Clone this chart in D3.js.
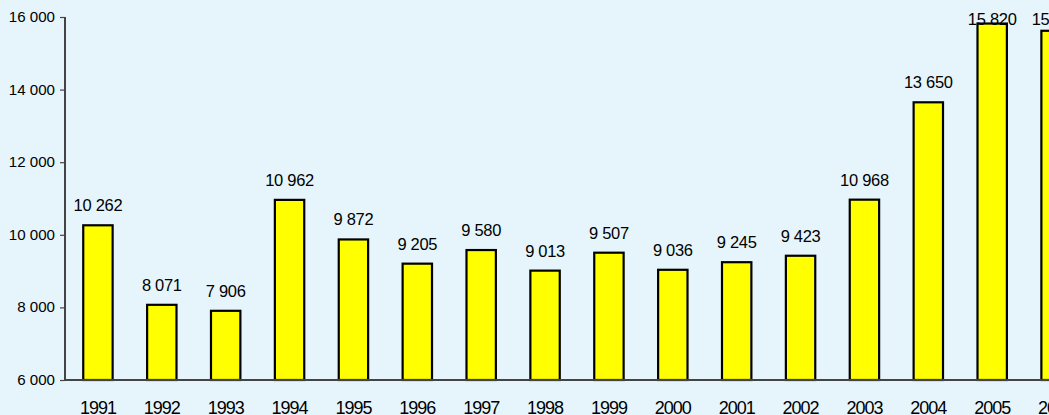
<!DOCTYPE html>
<html><head><meta charset="utf-8">
<script src="https://cdn.jsdelivr.net/npm/d3@7"></script>
<style>
html,body{margin:0;padding:0;background:#e6f5fb;overflow:hidden;}
svg{display:block;font-family:"Liberation Sans",Arial,sans-serif;}
</style></head>
<body>
<svg id="chart" width="1049" height="415"></svg>
<script>
const years = ["1991","1992","1993","1994","1995","1996","1997","1998","1999","2000","2001","2002","2003","2004","2005","2006"];
const values = [10262, 8071, 7906, 10962, 9872, 9205, 9580, 9013, 9507, 9036, 9245, 9423, 10968, 13650, 15820, 15620];
const yTicks = [6000, 8000, 10000, 12000, 14000, 16000];

const svg = d3.select("#chart");
svg.append("rect").attr("width",1049).attr("height",415).attr("fill","#e6f5fb");

const x = d3.scaleBand().domain(years).range([66, 1088]).paddingInner(0.54).paddingOuter(0.27);
const y = d3.scaleLinear().domain([6000, 16000]).range([380, 17]);

const fmt = d3.formatLocale({decimal:",", thousands:"\u00a0", grouping:[3], currency:["",""]}).format(",d");

// bars
svg.append("g").selectAll("rect").data(values).join("rect")
  .attr("x",(d,i)=>x(years[i]))
  .attr("y",d=>y(d))
  .attr("width",x.bandwidth())
  .attr("height",d=>y(6000)-y(d))
  .attr("fill","#ffff00")
  .attr("stroke","#000")
  .attr("stroke-width",2.2);

// y axis
const yAxis = svg.append("g").attr("transform","translate(65,0)")
  .call(d3.axisLeft(y).tickValues(yTicks).tickSize(5).tickPadding(5).tickFormat(fmt));
yAxis.select(".domain").attr("stroke","#444").attr("stroke-width",2).attr("d","M0,17V380");
yAxis.selectAll(".tick line").attr("stroke","#444").attr("stroke-width",1.2);
yAxis.selectAll(".tick text").attr("font-size",14).attr("fill","#000")
  .attr("font-family","Liberation Sans, Arial, sans-serif")
  .attr("transform","scale(1.08,1)").attr("x",-10/1.08);

// baseline
svg.append("line").attr("x1",65).attr("x2",1049).attr("y1",y(6000)).attr("y2",y(6000))
  .attr("stroke","#444").attr("stroke-width",2);

// x labels
const xAxis = svg.append("g").attr("transform",`translate(0,${y(6000)})`)
  .call(d3.axisBottom(x).tickSize(0).tickPadding(0));
xAxis.select(".domain").remove();
xAxis.selectAll(".tick text").attr("font-size",18).attr("letter-spacing","-1px")
  .attr("fill","#000").attr("dy",null).attr("y",34)
  .attr("font-family","Liberation Sans, Arial, sans-serif");

// value labels
svg.append("g").selectAll("text").data(values).join("text")
  .attr("x",(d,i)=>x(years[i])+x.bandwidth()/2)
  .attr("y",d=>Math.max(y(d)-14, 25))
  .attr("text-anchor","middle")
  .attr("font-size",16.5)
  .attr("letter-spacing","-0.3px")
  .attr("fill","#000")
  .text(d=>fmt(d));
</script>
</body></html>
